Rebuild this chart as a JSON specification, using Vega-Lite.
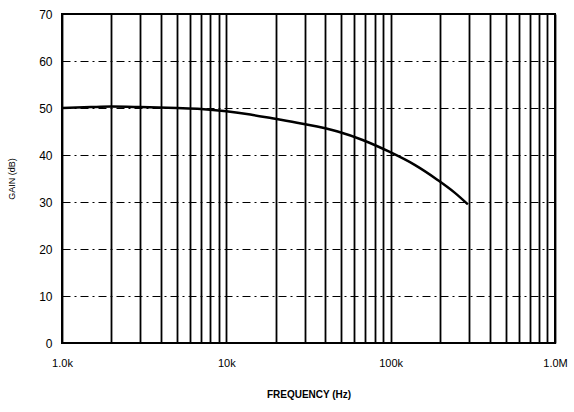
{
  "$schema": "https://vega.github.io/schema/vega-lite/v6.json",
  "width": 493,
  "height": 329,
  "autosize": {"type": "none"},
  "padding": {"left": 62, "top": 14, "right": 19, "bottom": 69},
  "background": "white",
  "config": {
    "view": {"stroke": "black", "strokeWidth": 2},
    "font": "Liberation Sans"
  },
  "data": {
    "values": [
      {"freq": 1000, "gain": 50.0},
      {"freq": 1500, "gain": 50.2},
      {"freq": 2000, "gain": 50.3},
      {"freq": 3000, "gain": 50.2},
      {"freq": 5000, "gain": 50.0},
      {"freq": 7000, "gain": 49.8},
      {"freq": 10000, "gain": 49.3},
      {"freq": 14000, "gain": 48.6},
      {"freq": 19000, "gain": 47.8},
      {"freq": 28500, "gain": 46.7},
      {"freq": 47600, "gain": 45.0},
      {"freq": 67500, "gain": 43.2},
      {"freq": 98000, "gain": 40.7},
      {"freq": 140000, "gain": 37.9},
      {"freq": 193000, "gain": 34.7},
      {"freq": 245000, "gain": 32.0},
      {"freq": 295000, "gain": 29.5}
    ]
  },
  "mark": {"type": "line", "color": "black", "strokeWidth": 2.5, "interpolate": "monotone"},
  "encoding": {
    "x": {
      "field": "freq",
      "type": "quantitative",
      "scale": {"type": "log", "domain": [1000, 1000000]},
      "axis": {
        "values": [1000, 2000, 3000, 4000, 5000, 6000, 7000, 8000, 9000, 10000, 20000, 30000, 40000, 50000, 60000, 70000, 80000, 90000, 100000, 200000, 300000, 400000, 500000, 600000, 700000, 800000, 900000, 1000000],
        "labelExpr": "datum.value == 1000 ? '1.0k' : datum.value == 10000 ? '10k' : datum.value == 100000 ? '100k' : datum.value == 1000000 ? '1.0M' : ''",
        "grid": true,
        "gridColor": "black",
        "gridWidth": 1.8,
        "gridOpacity": 1,
        "ticks": false,
        "domain": false,
        "labelPadding": 14,
        "labelFontSize": 11,
        "labelColor": "black",
        "labelFlush": false,
        "title": "FREQUENCY (Hz)",
        "titleFontSize": 10,
        "titleFontWeight": "bold",
        "titleColor": "black",
        "titlePadding": 21
      }
    },
    "y": {
      "field": "gain",
      "type": "quantitative",
      "scale": {"domain": [0, 70]},
      "axis": {
        "values": [0, 10, 20, 30, 40, 50, 60, 70],
        "grid": true,
        "gridColor": "black",
        "gridWidth": 1,
        "gridDash": [8, 4, 2, 4],
        "gridOpacity": 1,
        "ticks": false,
        "domain": false,
        "labelPadding": 10,
        "labelFontSize": 12,
        "labelColor": "black",
        "title": "GAIN (dB)",
        "titleFontSize": 9,
        "titleFontWeight": "normal",
        "titleColor": "black",
        "titlePadding": 22
      }
    }
  }
}
